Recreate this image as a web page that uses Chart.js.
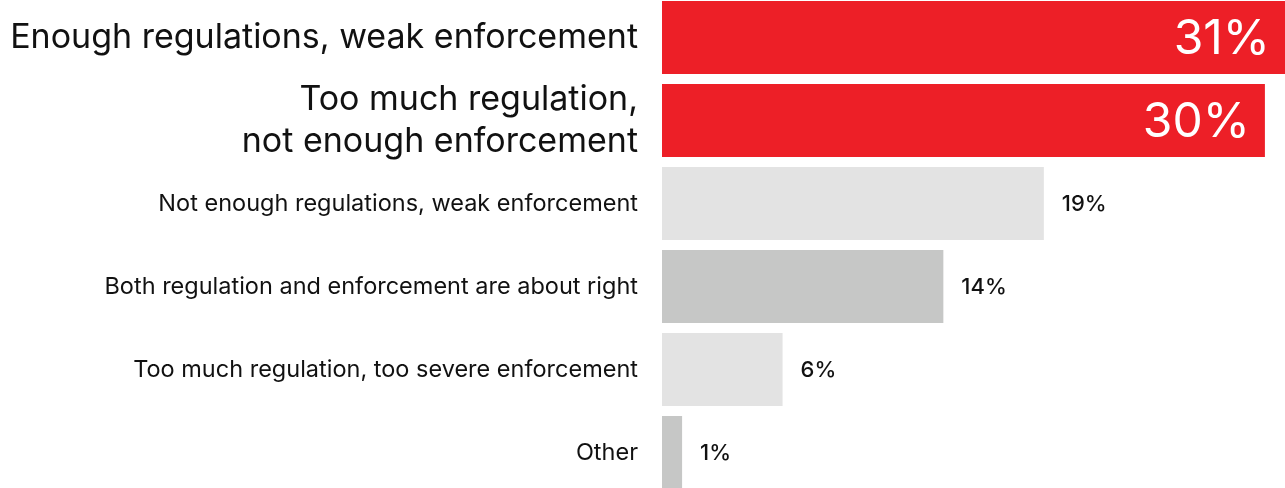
<!DOCTYPE html>
<html>
<head>
<meta charset="utf-8">
<script src="https://cdn.jsdelivr.net/npm/chart.js@4"></script>
<style>
  html, body { margin: 0; padding: 0; background: #fff; overflow: hidden; }
  #wrap { position: absolute; left: 0; top: -4px; width: 1285px; height: 498px; }
</style>
</head>
<body>
<div id="wrap"><canvas id="myBarChart"></canvas></div>
<script>
// survey answers, share of respondents in %
const categories = [
    'Enough regulations, weak enforcement',
    ['Too much regulation,', 'not enough enforcement'],
    'Not enough regulations, weak enforcement',
    'Both regulation and enforcement are about right',
    'Too much regulation, too severe enforcement',
    'Other'
];
const values = [31, 30, 19, 14, 6, 1];

// top two answers are highlighted
const highlightCount = 2;
const barColors = ['#ed1f27', '#ed1f27', '#e3e3e3', '#c6c7c6', '#e3e3e3', '#c6c7c6'];

const FONT = 'Inter, Lato, sans-serif';

// draws the % value next to / inside each bar
const valueLabels = {
    id: 'valueLabels',
    afterDatasetsDraw(chart) {
        const ctx = chart.ctx;
        const meta = chart.getDatasetMeta(0);
        ctx.save();
        ctx.textBaseline = 'middle';
        meta.data.forEach((bar, i) => {
            const txt = values[i] + '%';
            if (i < highlightCount) {
                ctx.font = '400 48px ' + FONT;
                ctx.fillStyle = '#fff';
                ctx.textAlign = 'right';
                ctx.fillText(txt, bar.x - 15, bar.y + 2);
            } else {
                ctx.font = '500 22px ' + FONT;
                ctx.fillStyle = '#111';
                ctx.textAlign = 'left';
                ctx.fillText(txt, bar.x + 18, bar.y + 1);
            }
        });
        ctx.restore();
    }
};

const chart = () => {
    const data = {
        labels: categories,
        datasets: [{
            data: values,
            backgroundColor: barColors,
            borderWidth: 0,
            categoryPercentage: 1,
            barPercentage: 0.88
        }]
    };
    const config = {
        type: 'bar',
        data: data,
        options: {
            indexAxis: 'y',
            responsive: true,
            maintainAspectRatio: false,
            animation: false,
            layout: { padding: 0 },
            plugins: {
                legend: { display: false },
                tooltip: { enabled: false }
            },
            scales: {
                x: {
                    display: false,
                    min: 0,
                    max: 31
                },
                y: {
                    // fixed label column, no extra vertical padding
                    afterFit: (scale) => {
                        scale.width = 662;
                        scale.paddingTop = 0;
                        scale.paddingBottom = 0;
                    },
                    border: { display: false },
                    grid: { display: false, drawTicks: false },
                    ticks: {
                        autoSkip: false,
                        padding: 24,
                        color: '#111',
                        font: (c) => ({
                            family: FONT,
                            size: c.index < highlightCount ? 34 : 23.5,
                            weight: 400,
                            lineHeight: 1.24
                        })
                    }
                }
            }
        },
        plugins: [valueLabels]
    };
    const el = document.getElementById('myBarChart');
    new Chart(el, config);
};

window.addEventListener('DOMContentLoaded', () => {
    chart();
});
</script>
</body>
</html>
